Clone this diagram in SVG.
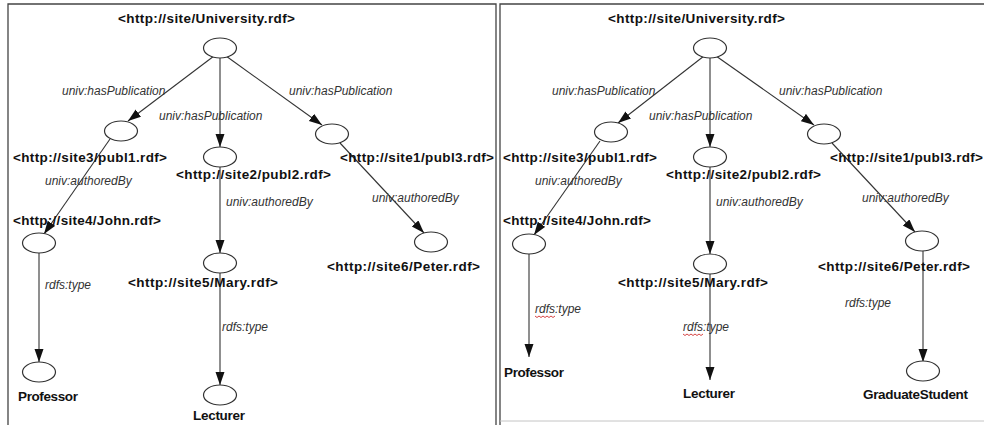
<svg xmlns="http://www.w3.org/2000/svg" width="984" height="425" viewBox="0 0 984 425">
<style>
.bg{fill:#ffffff}
.frame{stroke:#444;stroke-width:1.3;fill:none}
.frame2{stroke:#c4c4c4;stroke-width:1;fill:none}
.node ellipse{fill:#ffffff;stroke:#333;stroke-width:1.2}
.lbl{font-family:"Liberation Sans",Arial,sans-serif;font-weight:bold;font-size:13.5px;fill:#111}
.elbl{font-family:"Liberation Sans",Arial,sans-serif;font-style:italic;font-size:12px;fill:#333}
.edge{stroke:#333;stroke-width:1.1;fill:none;marker-end:url(#arr)}
.squig{stroke:#d03030;stroke-width:0.9;fill:none}
</style>
<defs>
<marker id="arr" markerUnits="userSpaceOnUse" markerWidth="14" markerHeight="10" refX="13" refY="4.5" orient="auto">
<path d="M0,0 L13,4.5 L0,9 Z" fill="#111"/>
</marker>
</defs>
<rect class="bg" x="0" y="0" width="984" height="425"/>
<g id="frames">
<path class="frame" d="M8,425 V4 H496 V425"/>
<path class="frame" d="M500,425 V4 H984"/>
<path class="frame2" d="M500,421 H984"/>
</g>

<g id="connectors">
<!-- left panel -->
<line class="edge" x1="214" y1="56" x2="128" y2="121"/>
<line class="edge" x1="220" y1="58" x2="220" y2="147"/>
<line class="edge" x1="226" y1="56" x2="322" y2="125"/>
<line class="edge" x1="110" y1="139" x2="44" y2="234"/>
<line class="edge" x1="220" y1="167" x2="220" y2="253"/>
<line class="edge" x1="340" y1="143" x2="424" y2="233"/>
<line class="edge" x1="39" y1="253" x2="39" y2="362"/>
<line class="edge" x1="220" y1="273" x2="220" y2="385"/>
<!-- right panel -->
<line class="edge" x1="704" y1="56" x2="618" y2="123"/>
<line class="edge" x1="710" y1="58" x2="710" y2="147"/>
<line class="edge" x1="716" y1="56" x2="814" y2="125"/>
<line class="edge" x1="600" y1="141" x2="534" y2="235"/>
<line class="edge" x1="710" y1="167" x2="710" y2="254"/>
<line class="edge" x1="832" y1="143" x2="915" y2="232"/>
<line class="edge" x1="529" y1="254" x2="529" y2="357"/>
<line class="edge" x1="710" y1="274" x2="710" y2="380"/>
<line class="edge" x1="923" y1="251" x2="923" y2="362"/>
</g>

<g id="edge-labels">
<text class="elbl" x="62" y="95">univ:hasPublication</text>
<text class="elbl" x="159" y="120">univ:hasPublication</text>
<text class="elbl" x="289" y="95">univ:hasPublication</text>
<text class="elbl" x="45" y="185">univ:authoredBy</text>
<text class="elbl" x="226" y="206">univ:authoredBy</text>
<text class="elbl" x="372" y="202">univ:authoredBy</text>
<text class="elbl" x="45" y="289">rdfs:type</text>
<text class="elbl" x="222" y="331">rdfs:type</text>

<text class="elbl" x="552" y="95">univ:hasPublication</text>
<text class="elbl" x="649" y="120">univ:hasPublication</text>
<text class="elbl" x="779" y="95">univ:hasPublication</text>
<text class="elbl" x="535" y="185">univ:authoredBy</text>
<text class="elbl" x="716" y="206">univ:authoredBy</text>
<text class="elbl" x="862" y="202">univ:authoredBy</text>
<text class="elbl" x="535" y="313">rdfs:type</text>
<path class="squig" d="M535,316 l2,1.5 l2,-1.5 l2,1.5 l2,-1.5 l2,1.5 l2,-1.5 l2,1.5 l2,-1.5 l2,1.5 l2,-1.5"/>
<text class="elbl" x="683" y="331">rdfs:type</text>
<path class="squig" d="M683,334 l2,1.5 l2,-1.5 l2,1.5 l2,-1.5 l2,1.5 l2,-1.5 l2,1.5 l2,-1.5 l2,1.5 l2,-1.5"/>
<text class="elbl" x="845" y="307">rdfs:type</text>
</g>

<!-- left panel nodes -->
<g id="L-university" class="node"><ellipse cx="220" cy="48" rx="16.5" ry="10"/><text class="lbl" x="118" y="23" textLength="177">&lt;http://site/University.rdf&gt;</text></g>
<g id="L-publ1" class="node"><ellipse cx="121" cy="131" rx="16.5" ry="10"/><text class="lbl" x="13" y="162" textLength="154">&lt;http://site3/publ1.rdf&gt;</text></g>
<g id="L-publ2" class="node"><ellipse cx="220" cy="157" rx="16.5" ry="10"/><text class="lbl" x="176" y="179" textLength="155">&lt;http://site2/publ2.rdf&gt;</text></g>
<g id="L-publ3" class="node"><ellipse cx="332" cy="134" rx="16.5" ry="10"/><text class="lbl" x="340" y="162" textLength="154">&lt;http://site1/publ3.rdf&gt;</text></g>
<g id="L-john" class="node"><ellipse cx="39" cy="243" rx="16.5" ry="10"/><text class="lbl" x="13" y="225" textLength="148">&lt;http://site4/John.rdf&gt;</text></g>
<g id="L-mary" class="node"><ellipse cx="220" cy="263" rx="16.5" ry="10"/><text class="lbl" x="128" y="287" textLength="150">&lt;http://site5/Mary.rdf&gt;</text></g>
<g id="L-peter" class="node"><ellipse cx="431" cy="242" rx="16.5" ry="10"/><text class="lbl" x="327" y="271" textLength="153">&lt;http://site6/Peter.rdf&gt;</text></g>
<g id="L-professor" class="node"><ellipse cx="39" cy="372" rx="16.5" ry="10"/><text class="lbl" x="18" y="401" textLength="60">Professor</text></g>
<g id="L-lecturer" class="node"><ellipse cx="220" cy="395" rx="16.5" ry="10"/><text class="lbl" x="193" y="420" textLength="52">Lecturer</text></g>

<!-- right panel nodes -->
<g id="R-university" class="node"><ellipse cx="710" cy="48" rx="16.5" ry="10"/><text class="lbl" x="608" y="23" textLength="177">&lt;http://site/University.rdf&gt;</text></g>
<g id="R-publ1" class="node"><ellipse cx="611" cy="132" rx="16.5" ry="10"/><text class="lbl" x="503" y="162" textLength="154">&lt;http://site3/publ1.rdf&gt;</text></g>
<g id="R-publ2" class="node"><ellipse cx="710" cy="157" rx="16.5" ry="10"/><text class="lbl" x="666" y="179" textLength="155">&lt;http://site2/publ2.rdf&gt;</text></g>
<g id="R-publ3" class="node"><ellipse cx="824" cy="134" rx="16.5" ry="10"/><text class="lbl" x="830" y="162" textLength="153">&lt;http://site1/publ3.rdf&gt;</text></g>
<g id="R-john" class="node"><ellipse cx="529" cy="244" rx="16.5" ry="10"/><text class="lbl" x="503" y="225" textLength="148">&lt;http://site4/John.rdf&gt;</text></g>
<g id="R-mary" class="node"><ellipse cx="710" cy="264" rx="16.5" ry="10"/><text class="lbl" x="618" y="287" textLength="150">&lt;http://site5/Mary.rdf&gt;</text></g>
<g id="R-peter" class="node"><ellipse cx="922" cy="241" rx="16.5" ry="10"/><text class="lbl" x="818" y="271" textLength="152">&lt;http://site6/Peter.rdf&gt;</text></g>
<g id="R-professor" class="node"><text class="lbl" x="504" y="377" textLength="60">Professor</text></g>
<g id="R-lecturer" class="node"><text class="lbl" x="683" y="398" textLength="52">Lecturer</text></g>
<g id="R-graduatestudent" class="node"><ellipse cx="923" cy="371" rx="16.5" ry="10"/><text class="lbl" x="863" y="399" textLength="105">GraduateStudent</text></g>
</svg>
